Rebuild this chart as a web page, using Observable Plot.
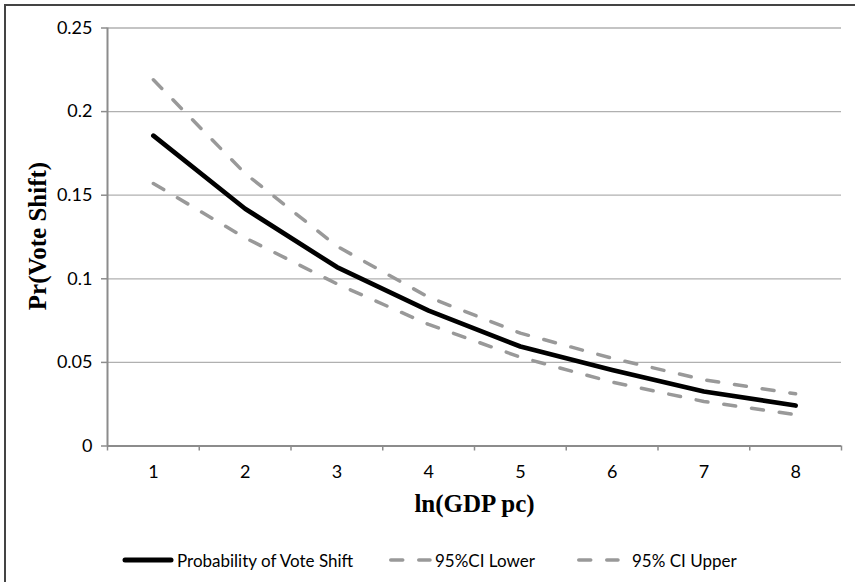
<!DOCTYPE html>
<html>
<head>
<meta charset="utf-8">
<script src="https://cdn.jsdelivr.net/npm/d3@7"></script>
<script src="https://cdn.jsdelivr.net/npm/@observablehq/plot@0.6"></script>
<style>
  html, body { margin: 0; padding: 0; background: #fff; }
  #wrap { position: relative; width: 855px; height: 582px; overflow: hidden; background: #fff; }
  #frame { position: absolute; left: 4px; top: 4px; width: 900px; height: 700px; border: 2px solid #444; box-sizing: border-box; }
  #chart { position: absolute; left: 0; top: 0; }
  .leg { position: absolute; top: 548px; height: 24px; display: flex; align-items: center; font-family: Lato, "Open Sans", sans-serif; font-size: 17px; color: #000; white-space: nowrap; }
  .leg svg { display: block; }
</style>
</head>
<body>
<div id="wrap">
  <div id="frame"></div>
  <div id="chart"></div>
  <div class="leg" style="left:121px"><svg width="54" height="12"><line x1="4" x2="50" y1="6" y2="6" stroke="#000" stroke-width="5" stroke-linecap="round"/></svg><span style="margin-left:2px">Probability of Vote Shift</span></div>
  <div class="leg" style="left:387px"><svg width="47" height="12"><line x1="3.75" x2="43" y1="6" y2="6" stroke="#999" stroke-width="3.5" stroke-linecap="round" stroke-dasharray="12,16"/></svg><span style="margin-left:1px">95%CI Lower</span></div>
  <div class="leg" style="left:575px"><svg width="47" height="12"><line x1="3.75" x2="43" y1="6" y2="6" stroke="#999" stroke-width="3.5" stroke-linecap="round" stroke-dasharray="12,16"/></svg><span style="margin-left:10px">95% CI Upper</span></div>
</div>
<script>
// ---- data ----
const categories = [1, 2, 3, 4, 5, 6, 7, 8];
const probVoteShift = [0.1856, 0.1419, 0.107, 0.081, 0.0595, 0.0455, 0.0326, 0.0242];
const ciLower = [0.157, 0.1245, 0.097, 0.0727, 0.0531, 0.0382, 0.0266, 0.0188];
const ciUpper = [0.219, 0.163, 0.1195, 0.089, 0.0675, 0.0525, 0.0396, 0.0312];
const yTicks = [0, 0.05, 0.1, 0.15, 0.2, 0.25];
const xTitle = "ln(GDP pc)";
const yTitle = "Pr(Vote Shift)";

const rows = categories.map((c, i) => ({x: c, p: probVoteShift[i], lo: ciLower[i], hi: ciUpper[i]}));
const xDomain = [d3.min(categories) - 0.5, d3.max(categories) + 0.5];
const boundaries = d3.range(xDomain[0], xDomain[1] + 0.001, 1);

const tickFont = "Lato, 'Open Sans', sans-serif";
const titleFont = "'Liberation Serif', 'Times New Roman', serif";
const axisGray = "#8c8c8c";
const gridGray = "#b0b0b0";
const dashGray = "#999999";

const chart = Plot.plot({
  width: 855,
  height: 530,
  marginLeft: 107,
  marginRight: 14,
  marginTop: 27.5,
  marginBottom: 84.5,
  style: {background: "transparent", color: "#000"},
  x: {type: "linear", domain: xDomain},
  y: {type: "linear", domain: [0, 0.25]},
  marks: [
    Plot.gridY(yTicks, {stroke: gridGray, strokeOpacity: 1, strokeWidth: 1.3}),
    Plot.ruleY([0], {stroke: axisGray, strokeWidth: 2}),
    Plot.ruleX([xDomain[0]], {stroke: axisGray, strokeWidth: 2}),
    Plot.axisY({ticks: yTicks, tickSize: 6, tickPadding: 9, stroke: axisGray, strokeWidth: 1.5,
      tickFormat: d => String(+d.toFixed(2)), fontSize: 18, fontFamily: tickFont, label: null}),
    Plot.axisX({ticks: boundaries, tickSize: 5, tickPadding: 0, stroke: axisGray, strokeWidth: 1.5,
      tickFormat: () => "", label: null}),
    Plot.axisX({ticks: categories, tickSize: 0, tickPadding: 19, tickFormat: d => String(d),
      fontSize: 18, fontFamily: tickFont, label: null}),
    Plot.line(rows, {x: "x", y: "lo", stroke: dashGray, strokeWidth: 3.5, strokeDasharray: "12,16", strokeLinecap: "round"}),
    Plot.line(rows, {x: "x", y: "hi", stroke: dashGray, strokeWidth: 3.5, strokeDasharray: "12,16", strokeLinecap: "round"}),
    Plot.line(rows, {x: "x", y: "p", stroke: "#000", strokeWidth: 4.7, strokeLinecap: "round", strokeLinejoin: "round"}),
    Plot.text([yTitle], {frameAnchor: "left", textAnchor: "middle", lineAnchor: "middle", rotate: -90, dx: -70, dy: -1,
      fontSize: 25, fontWeight: "bold", fontFamily: titleFont, fill: "#000"}),
    Plot.text([xTitle], {frameAnchor: "bottom", textAnchor: "middle", lineAnchor: "middle", dy: 58,
      fontSize: 25, fontWeight: "bold", fontFamily: titleFont, fill: "#000"})
  ]
});
document.getElementById("chart").appendChild(chart);
</script>
</body>
</html>
